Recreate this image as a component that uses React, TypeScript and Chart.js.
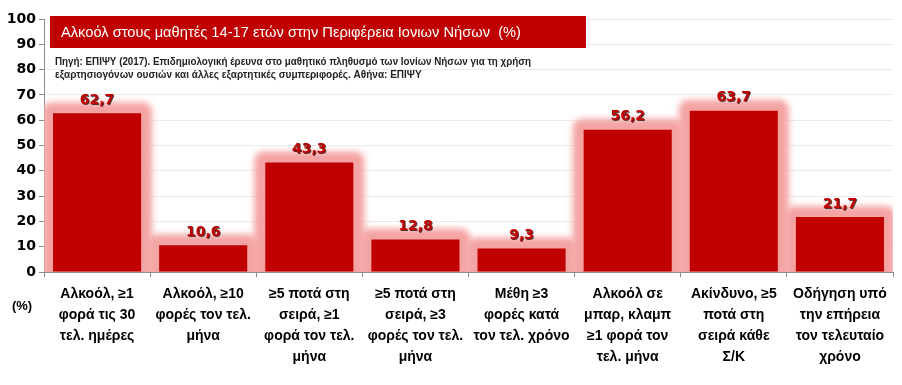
import React, { useEffect, useRef } from "react";
import { Chart, registerables } from "chart.js";

Chart.register(...registerables);

const categories: string[][] = [
  ["Αλκοόλ, ≥1", "φορά τις 30", "τελ. ημέρες"],
  ["Αλκοόλ, ≥10", "φορές τον τελ.", "μήνα"],
  ["≥5 ποτά στη", "σειρά, ≥1", "φορά τον τελ.", "μήνα"],
  ["≥5 ποτά στη", "σειρά, ≥3", "φορές τον τελ.", "μήνα"],
  ["Μέθη ≥3", "φορές κατά", "τον τελ. χρόνο"],
  ["Αλκοόλ σε", "μπαρ, κλαμπ", "≥1 φορά τον", "τελ. μήνα"],
  ["Ακίνδυνο, ≥5", "ποτά στη", "σειρά κάθε", "Σ/Κ"],
  ["Οδήγηση υπό", "την επήρεια", "τον τελευταίο", "χρόνο"],
];

const values: number[] = [62.7, 10.6, 43.3, 12.8, 9.3, 56.2, 63.7, 21.7];

const yMin = 0;
const yMax = 100;
const yStep = 10;

const titleText = "Αλκοόλ στους μαθητές 14-17 ετών στην Περιφέρεια Ιονιων Νήσων  (%)";
const sourceLines: string[] = [
  "Πηγή: ΕΠΙΨΥ (2017). Επιδημιολογική έρευνα στο μαθητικό πληθυσμό των Ιονίων Νήσων για τη χρήση",
  "εξαρτησιογόνων ουσιών και άλλες εξαρτητικές συμπεριφορές. Αθήνα: ΕΠΙΨΥ",
];
const unitLabel = "(%)";

const RED = "#c00000";
const GLOW = "#f4a3a3";

const fmt = (v: number) => v.toFixed(1).replace(".", ",");

const decorPlugin = {
  id: "decor",
  beforeDatasetsDraw(chart: any) {
    const { ctx, chartArea } = chart;
    // title box
    ctx.save();
    ctx.fillStyle = RED;
    ctx.fillRect(50, 16, 536, 32);
    ctx.fillStyle = "#ffffff";
    ctx.font = "15px 'Liberation Sans', Arial, sans-serif";
    ctx.textBaseline = "middle";
    ctx.textAlign = "left";
    ctx.fillText(titleText, 61, 33, 460);
    ctx.fillStyle = "#222222";
    ctx.font = "bold 10px 'Liberation Sans', Arial, sans-serif";
    ctx.fillText(sourceLines[0], 55, 62, 476);
    ctx.fillText(sourceLines[1], 55, 75, 370);
    ctx.restore();

    // glow behind bars
    const meta = chart.getDatasetMeta(0);
    ctx.save();
    ctx.beginPath();
    ctx.rect(chartArea.left, chartArea.top - 20, chartArea.right - chartArea.left, chartArea.bottom - chartArea.top + 20);
    ctx.clip();
    ctx.filter = "blur(3px)";
    ctx.fillStyle = GLOW;
    meta.data.forEach((bar: any) => {
      const { x, y, base, width } = bar.getProps(["x", "y", "base", "width"], true);
      const pad = 11;
      ctx.beginPath();
      (ctx as any).roundRect(x - width / 2 - pad, y - pad, width + 2 * pad, base - y + 2 * pad, 9);
      ctx.fill();
    });
    ctx.restore();
  },
  afterDatasetsDraw(chart: any) {
    const { ctx } = chart;
    const meta = chart.getDatasetMeta(0);
    ctx.save();
    ctx.font = "bold 14px 'DejaVu Sans', sans-serif";
    ctx.textAlign = "center";
    ctx.textBaseline = "middle";
    ctx.fillStyle = RED;
    ctx.shadowColor = "rgba(40,0,0,0.75)";
    ctx.shadowOffsetX = 1;
    ctx.shadowOffsetY = 1;
    ctx.shadowBlur = 0;
    meta.data.forEach((bar: any, i: number) => {
      const { x, y } = bar.getProps(["x", "y"], true);
      ctx.fillText(fmt(values[i]), x, y - 13);
    });
    ctx.restore();
  },
  afterDraw(chart: any) {
    const { ctx } = chart;
    ctx.save();
    ctx.font = "bold 13px 'Liberation Sans', Arial, sans-serif";
    ctx.fillStyle = "#000";
    ctx.textAlign = "center";
    ctx.textBaseline = "middle";
    ctx.fillText(unitLabel, 22, 306);
    ctx.restore();
  },
};

export default function App() {
  const ref = useRef<HTMLCanvasElement | null>(null);
  useEffect(() => {
    if (!ref.current) return;
    const chart = new Chart(ref.current, {
      type: "bar",
      data: {
        labels: categories,
        datasets: [
          {
            data: values,
            backgroundColor: RED,
            borderWidth: 0,
            barPercentage: 0.83,
            categoryPercentage: 1,
          },
        ],
      },
      options: {
        animation: false,
        responsive: true,
        maintainAspectRatio: false,
        layout: { padding: { top: 19, right: 9, left: 0, bottom: 0 } },
        plugins: {
          legend: { display: false },
          tooltip: { enabled: false },
          title: { display: false },
        },
        scales: {
          x: {
            offset: true,
            grid: {
              display: true,
              drawOnChartArea: false,
              offset: true,
              tickLength: 5,
              tickColor: "#8c8c8c",
            },
            border: { color: "#8c8c8c", width: 1 },
            ticks: {
              color: "#000",
              font: { family: "'Liberation Sans', Arial, sans-serif", size: 14, weight: "bold", lineHeight: 1.5 },
              maxRotation: 0,
              minRotation: 0,
              autoSkip: false,
              padding: 7,
            },
            afterFit(scale: any) {
              scale.height = 113;
            },
          },
          y: {
            min: yMin,
            max: yMax,
            grid: {
              color: "#ebebeb",
              tickLength: 5,
              tickColor: "#8c8c8c",
            },
            border: { color: "#8c8c8c", width: 1 },
            ticks: {
              stepSize: yStep,
              color: "#000",
              font: { family: "'DejaVu Sans', sans-serif", size: 14, weight: "bold" },
              padding: 3,
            },
            afterFit(scale: any) {
              scale.width = 44;
            },
          },
        },
      },
      plugins: [decorPlugin],
    });
    return () => chart.destroy();
  }, []);
  return (
    <div style={{ position: "absolute", left: 0, top: 0, width: 902, height: 385, background: "#fff" }}>
      <canvas ref={ref} />
    </div>
  );
}
